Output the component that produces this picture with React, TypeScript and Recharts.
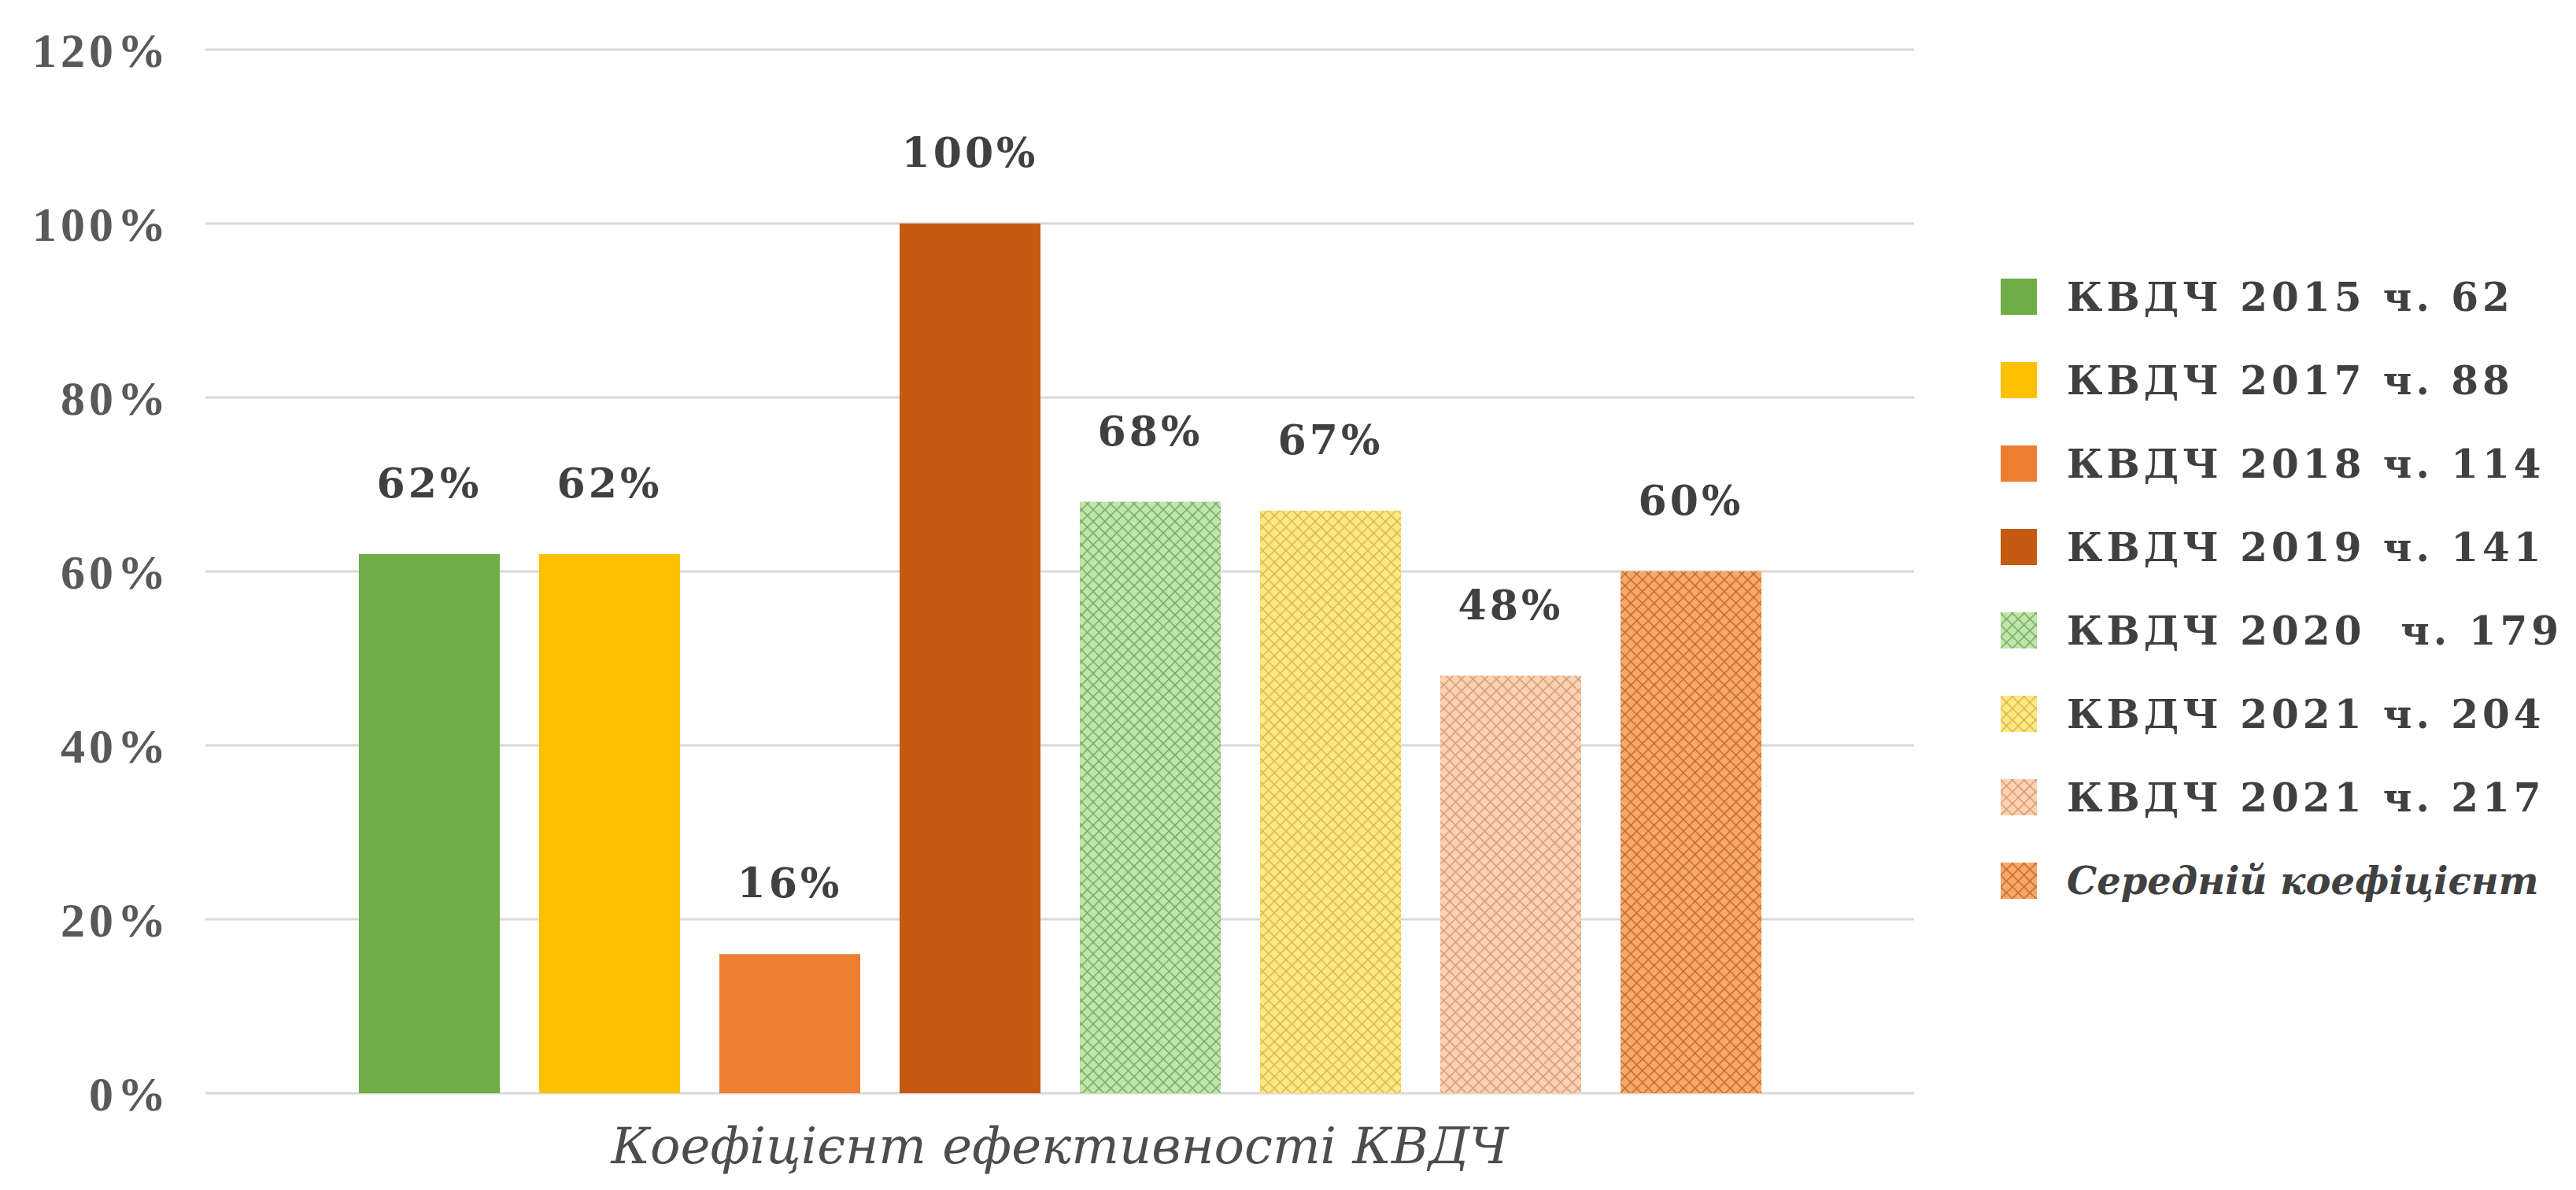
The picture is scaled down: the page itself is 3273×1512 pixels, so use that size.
import React from 'react';
import { BarChart, Bar, XAxis, YAxis, CartesianGrid, Legend, LabelList } from 'recharts';

const categories = ['Коефіцієнт ефективності КВДЧ'];

const seriesNames = [
  'КВДЧ 2015 ч. 62',
  'КВДЧ 2017 ч. 88',
  'КВДЧ 2018 ч. 114',
  'КВДЧ 2019 ч. 141',
  'КВДЧ 2020  ч. 179',
  'КВДЧ 2021 ч. 204',
  'КВДЧ 2021 ч. 217',
  'Середній коефіцієнт',
];

const seriesValues = [0.62, 0.62, 0.16, 1.0, 0.68, 0.67, 0.48, 0.6];

const yTicks = [0, 0.2, 0.4, 0.6, 0.8, 1.0, 1.2];

// solid fills for the first four, hatched patterns for the rest
const solidColors = ['#70AD47', '#FFC000', '#ED7D31', '#C55A11'];
const hatches = [
  { id: 'hatch-green', bg: '#bde8a8', line: '#7fa36c' },
  { id: 'hatch-yellow', bg: '#fde883', line: '#d8b84a' },
  { id: 'hatch-peach', bg: '#fcd2b2', line: '#d49a76' },
  { id: 'hatch-orange', bg: '#f8a868', line: '#c26a30' },
];

const fills = [
  ...solidColors,
  ...hatches.map((h) => `url(#${h.id})`),
];

const data = categories.map((name) => {
  const row: Record<string, any> = { name };
  seriesNames.forEach((s, i) => {
    row['s' + i] = seriesValues[i];
  });
  return row;
});

const pct = (v: number) => `${Math.round(v * 100)}%`;

const CELL = 10.5;

function HatchDefs() {
  return (
    <svg width={0} height={0} style={{ position: 'absolute' }}>
      <defs>
        {hatches.map((h) => (
          <pattern
            key={h.id}
            id={h.id}
            patternUnits="userSpaceOnUse"
            width={CELL}
            height={CELL}
            patternTransform="rotate(45)"
          >
            <rect width={CELL} height={CELL} fill={h.bg} />
            <line x1={0} y1={0} x2={CELL} y2={0} stroke={h.line} strokeWidth={3} />
            <line x1={0} y1={0} x2={0} y2={CELL} stroke={h.line} strokeWidth={3} />
          </pattern>
        ))}
      </defs>
    </svg>
  );
}

function LegendBox() {
  return (
    <div>
      {seriesNames.map((name, i) => (
        <div
          key={name}
          style={{ display: 'flex', alignItems: 'center', height: 106, whiteSpace: 'nowrap' }}
        >
          <svg width={46} height={46} style={{ marginRight: 38, flex: 'none' }}>
            <rect width={46} height={46} fill={fills[i]} />
          </svg>
          <span
            style={{
              fontFamily: '"DejaVu Serif", serif',
              fontWeight: 'bold',
              fontStyle: i === 7 ? 'italic' : 'normal',
              fontSize: i === 7 ? 48 : 50,
              letterSpacing: i === 7 ? 0 : 5,
              color: '#404040',
              whiteSpace: 'pre',
            }}
          >
            {name}
          </span>
        </div>
      ))}
    </div>
  );
}

export default function App() {
  return (
    <div style={{ width: 3257, height: 1496, overflow: 'hidden', position: 'relative' }}>
      <HatchDefs />
      <BarChart
        width={3257}
        height={1496}
        data={data}
        margin={{ top: 55, right: 833, bottom: 0, left: 0 }}
        barSize={179}
        barGap={50}
      >
        <CartesianGrid vertical={false} stroke="#d9d9d9" strokeWidth={3} />
        <XAxis
          dataKey="name"
          axisLine={false}
          tickLine={false}
          tickSize={0}
          tickMargin={44}
          height={115}
          tick={{
            fill: '#4d4d4d',
            fontSize: 64,
            fontFamily: '"DejaVu Serif", serif',
            fontStyle: 'italic',
          }}
        />
        <YAxis
          domain={[0, 1.2]}
          ticks={yTicks}
          tickFormatter={pct}
          axisLine={false}
          tickLine={false}
          tickSize={0}
          tickMargin={45}
          width={253}
          tick={{
            fill: '#595959',
            fontSize: 62,
            fontWeight: 'bold',
            fontFamily: '"Liberation Serif", serif',
            letterSpacing: 5,
          }}
        />
        <Legend
          layout="vertical"
          align="center"
          verticalAlign="middle"
          wrapperStyle={{ left: 2534, top: 316, width: 740 }}
          content={() => <LegendBox />}
        />
        {seriesNames.map((name, i) => (
          <Bar key={name} dataKey={'s' + i} name={name} fill={fills[i]} isAnimationActive={false}>
            <LabelList
              dataKey={'s' + i}
              position="top"
              offset={72}
              formatter={(v: any) => pct(Number(v))}
              style={{
                fill: '#404040',
                fontSize: 52,
                fontWeight: 'bold',
                fontFamily: '"DejaVu Serif", serif',
                letterSpacing: 4,
              }}
            />
          </Bar>
        ))}
      </BarChart>
    </div>
  );
}
